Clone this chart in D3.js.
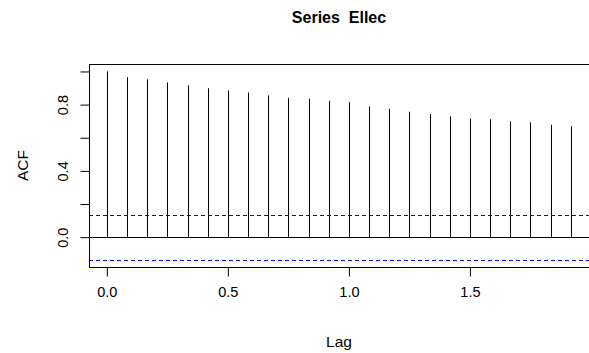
<!DOCTYPE html>
<html>
<head>
<meta charset="utf-8">
<script src="https://cdn.jsdelivr.net/npm/d3@7.9.0/dist/d3.min.js"></script>
<style>
  html, body { margin: 0; padding: 0; background: #fff; }
  svg { display: block; font-family: "Liberation Sans", Arial, sans-serif; }
</style>
</head>
<body>
<svg id="chart" width="589" height="353"></svg>
<script>
// ACF values, lags in years (monthly series)
const lags = d3.range(24).map(k => k / 12);
const acf = [1.0, 0.966, 0.952, 0.934, 0.916, 0.899, 0.886, 0.873, 0.855, 0.841, 0.836, 0.823,
             0.815, 0.789, 0.775, 0.757, 0.743, 0.729, 0.717, 0.711, 0.699, 0.693, 0.678, 0.670];
const ciLimit = 0.135;
const xTicks = [0, 0.5, 1.0, 1.5];
const yTicks = [0, 0.2, 0.4, 0.6, 0.8, 1.0];
const yLabelled = [0, 0.4, 0.8];

const svg = d3.select("#chart");
const plotLeft = 89, plotRight = 590, plotTop = 64, plotBottom = 267;

const x = d3.scaleLinear().domain([-0.0736, 1.996]).range([plotLeft, plotRight]);
const y = d3.scaleLinear().domain([-0.18, 1.045]).range([plotBottom, plotTop]);
const crisp = v => Math.round(v) + 0.5;

// title
svg.append("text")
  .attr("x", (plotLeft + 589) / 2)
  .attr("y", 23)
  .attr("text-anchor", "middle")
  .attr("font-weight", "bold")
  .attr("font-size", 16)
  .attr("xml:space", "preserve")
  .text("Series  Ellec");

// zero line
svg.append("line")
  .attr("x1", plotLeft).attr("x2", plotRight)
  .attr("y1", crisp(y(0))).attr("y2", crisp(y(0)))
  .attr("stroke", "#000");

// spikes
svg.append("g").selectAll("line")
  .data(lags.map((l, i) => ({ lag: l, v: acf[i] })))
  .join("line")
  .attr("x1", d => crisp(x(d.lag)))
  .attr("x2", d => crisp(x(d.lag)))
  .attr("y1", crisp(y(0)))
  .attr("y2", d => y(d.v))
  .attr("stroke", "#000")
  .attr("stroke-width", 1);

// confidence bounds
[ciLimit, -ciLimit].forEach(c => {
  svg.append("line")
    .attr("x1", plotLeft).attr("x2", plotRight)
    .attr("y1", crisp(y(c))).attr("y2", crisp(y(c)))
    .attr("stroke", "#0000ff")
    .attr("stroke-dasharray", "4,3");
});

// box
svg.append("rect")
  .attr("x", plotLeft + 0.5).attr("y", plotTop + 0.5)
  .attr("width", plotRight - plotLeft).attr("height", plotBottom - plotTop)
  .attr("fill", "none")
  .attr("stroke", "#000");

// x axis
const xAxis = svg.append("g")
  .attr("transform", `translate(0,${plotBottom + 0.5})`)
  .call(d3.axisBottom(x).tickValues(xTicks).tickFormat(d3.format(".1f"))
    .tickSize(9).tickPadding(10).tickSizeOuter(0));
xAxis.select(".domain")
  .attr("d", `M${x(xTicks[0])},0H${x(xTicks[xTicks.length - 1])}`);
xAxis.selectAll("text").attr("font-size", 14.5).attr("fill", "#000").attr("font-family", null);

// y axis
const yAxis = svg.append("g")
  .attr("transform", `translate(${plotLeft + 0.5},0)`)
  .call(d3.axisLeft(y).tickValues(yTicks).tickSize(9).tickSizeOuter(0)
    .tickFormat(d => yLabelled.some(v => Math.abs(v - d) < 1e-9) ? d3.format(".1f")(d) : ""));
yAxis.select(".domain")
  .attr("d", `M0,${y(yTicks[0])}V${y(yTicks[yTicks.length - 1])}`);
yAxis.selectAll(".tick text")
  .attr("font-size", 14.5).attr("fill", "#000").attr("font-family", null)
  .attr("text-anchor", "middle")
  .attr("x", null).attr("dy", null)
  .attr("transform", "translate(-25,0) rotate(-90)")
  .attr("dominant-baseline", "middle");

// axis titles
svg.append("text")
  .attr("x", (plotLeft + 589) / 2)
  .attr("y", 347)
  .attr("text-anchor", "middle")
  .attr("font-size", 15.5)
  .text("Lag");

svg.append("text")
  .attr("transform", `translate(28,${(plotTop + plotBottom) / 2}) rotate(-90)`)
  .attr("text-anchor", "middle")
  .attr("font-size", 15.5)
  .text("ACF");
</script>
</body>
</html>
